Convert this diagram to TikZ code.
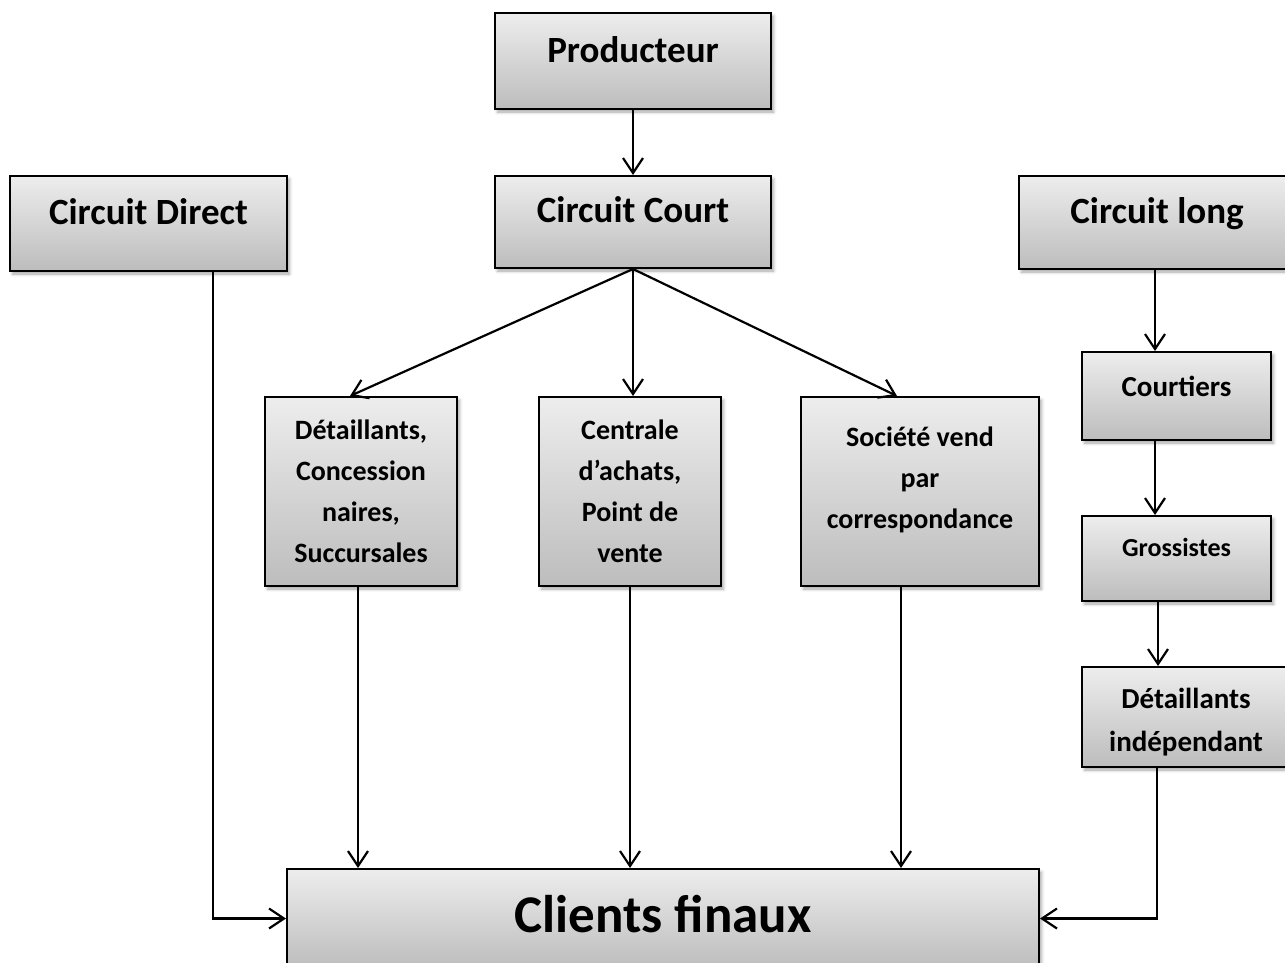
\documentclass[tikz,border=0pt]{standalone}
\usepackage{fontspec}
\setmainfont{Carlito}
\usetikzlibrary{arrows.meta,shadows.blur}
\begin{document}
\begin{tikzpicture}[x=1pt,y=-1pt,
  box/.style={draw=black, line width=2pt, top color=black!7, bottom color=black!26,
    blur shadow={shadow xshift=2.5pt, shadow yshift=-3pt, shadow opacity=35, shadow blur radius=3pt},
    inner sep=0pt},
  lbl/.style={align=center, inner sep=0pt},
  big/.style={font={\bfseries\fontsize{37}{44}\selectfont}},
  mid/.style={font={\bfseries\fontsize{28}{41}\selectfont}},
  conn/.style={line width=2.2pt, -{Straight Barb[length=15pt,width=20pt]}},
]
\clip (0,0) rectangle (1285,963);
% boxes
\node[box, minimum width=276pt, minimum height=96pt] (prod) at (633,61) {};
\node[box, minimum width=277pt, minimum height=95pt] (direct) at (148.5,223.5) {};
\node[box, minimum width=276pt, minimum height=92pt] (court) at (633,222) {};
\node[box, minimum width=276pt, minimum height=93pt] (long) at (1157,222.5) {};
\node[box, minimum width=192pt, minimum height=189pt] (det) at (361,491.5) {};
\node[box, minimum width=182pt, minimum height=189pt] (cent) at (630,491.5) {};
\node[box, minimum width=238pt, minimum height=189pt] (soc) at (920,491.5) {};
\node[box, minimum width=189pt, minimum height=88pt] (crt) at (1176.5,396) {};
\node[box, minimum width=189pt, minimum height=85pt] (gros) at (1176.5,558.5) {};
\node[box, minimum width=208pt, minimum height=100pt] (detind) at (1186,717) {};
\node[box, minimum width=752pt, minimum height=99pt] (cli) at (663,918.5) {};
% labels
\node[lbl, big] (tprod) at ([yshift=11pt]prod.center) {Producteur};
\node[lbl, big] (tdirect) at ([yshift=12pt]direct.center) {Circuit Direct};
\node[lbl, big] (tcourt) at ([yshift=12pt]court.center) {Circuit Court};
\node[lbl, big] (tlong) at ([yshift=9pt]long.center) {Circuit long};
\node[lbl, mid] (tdet) at (det.center) {Détaillants,\\Concession\\naires,\\Succursales};
\node[lbl, mid] (tcent) at (cent.center) {Centrale\\d’achats,\\Point de\\vente};
\node[lbl, mid] (tsoc) at ([yshift=12pt]soc.center) {Société vend\\par\\correspondance};
\node[lbl, font={\bfseries\fontsize{29}{42}\selectfont}] (tcrt) at ([yshift=10pt]crt.center) {Courtiers};
\node[lbl, font={\bfseries\fontsize{26}{40}\selectfont}] (tgros) at ([yshift=11pt]gros.center) {Grossistes};
\node[lbl, font={\bfseries\fontsize{29}{43}\selectfont}] (tdetind) at ([yshift=-5pt]detind.center) {Détaillants\\indépendant};
\node[lbl, font={\bfseries\fontsize{53}{60}\selectfont}] (tcli) at ([yshift=4pt]cli.center) {Clients finaux};
% connectors
\draw[conn] (prod.south) -- (court.north);
\draw[conn] (court.south) -- ([xshift=-11pt]det.north);
\draw[conn] (court.south) -- (court.south |- cent.north);
\draw[conn] (court.south) -- ([xshift=-23pt]soc.north);
\draw[conn] ([xshift=-3pt]det.south) -- ([xshift=-3pt]det.south |- cli.north);
\draw[conn] (cent.south) -- (cent.south |- cli.north);
\draw[conn] ([xshift=-19pt]soc.south) -- ([xshift=-19pt]soc.south |- cli.north);
\draw[conn] ([xshift=64.5pt]direct.south) |- (cli.west);
\draw[conn] ([xshift=-2pt]long.south) -- ([xshift=-2pt]long.south |- crt.north);
\draw[conn] ([xshift=-21.5pt]crt.south) -- ([xshift=-21.5pt]crt.south |- gros.north);
\draw[conn] ([xshift=-18.5pt]gros.south) -- ([xshift=-18.5pt]gros.south |- detind.north);
\draw[conn] ([xshift=-29pt]detind.south) |- (cli.east);
\end{tikzpicture}
\end{document}
